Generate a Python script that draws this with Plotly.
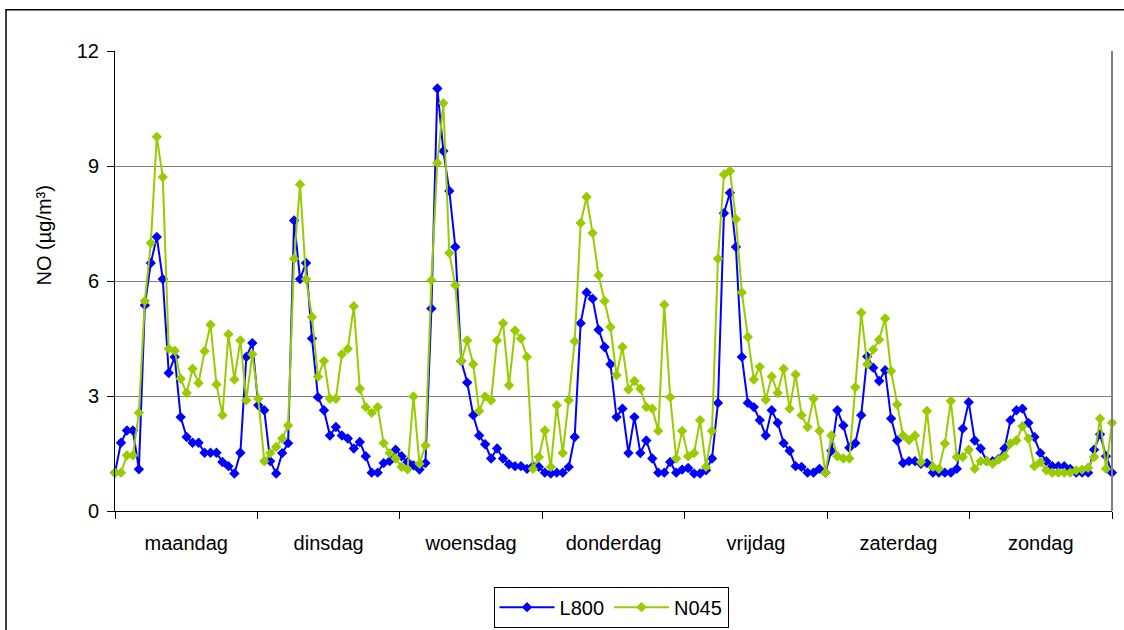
import plotly.graph_objects as go

days = ["maandag", "dinsdag", "woensdag", "donderdag", "vrijdag", "zaterdag", "zondag"]
y_ticks = [0, 3, 6, 9, 12]

l800 = [
    1.0, 1.78, 2.1, 2.1, 1.09, 5.37, 6.47, 7.15, 6.05, 3.6, 4.02, 2.45, 1.93, 1.78, 1.78, 1.52, 1.52, 1.52, 1.28, 1.17, 0.98, 1.52, 4.02, 4.38,
    2.76, 2.63, 1.30, 0.98, 1.51, 1.77, 7.58, 6.05, 6.47, 4.50, 2.97, 2.63, 1.97, 2.19, 1.97, 1.89, 1.63, 1.80, 1.43, 1.0, 1.0, 1.25, 1.30, 1.60,
    1.43, 1.28, 1.19, 1.08, 1.25, 5.28, 11.02, 9.39, 8.35, 6.89, 3.91, 3.35, 2.50, 1.97, 1.74, 1.37, 1.63, 1.37, 1.22, 1.17, 1.17, 1.10, 1.17, 1.15,
    1.0, 0.98, 1.0, 1.0, 1.15, 1.93, 4.90, 5.70, 5.54, 4.73, 4.28, 3.83, 2.45, 2.67, 1.51, 2.45, 1.51, 1.84, 1.37, 1.0, 1.0, 1.28, 1.0, 1.08,
    1.12, 0.98, 0.98, 1.06, 1.37, 2.82, 7.77, 8.30, 6.89, 4.02, 2.82, 2.71, 2.37, 1.97, 2.63, 2.30, 1.77, 1.57, 1.17, 1.15, 1.0, 1.0, 1.10, 1.0,
    1.57, 2.63, 2.23, 1.65, 1.77, 2.50, 4.03, 3.74, 3.39, 3.67, 2.41, 1.84, 1.25, 1.30, 1.30, 1.23, 1.25, 1.0, 1.0, 1.0, 1.0, 1.10, 2.15, 2.84,
    1.84, 1.63, 1.30, 1.30, 1.36, 1.63, 2.37, 2.63, 2.67, 2.30, 1.93, 1.51, 1.30, 1.17, 1.17, 1.17, 1.10, 1.0, 1.0, 1.0, 1.60, 2.0, 1.43, 1.0,
]

n045 = [
    1.0, 1.0, 1.45, 1.45, 2.56, 5.48, 6.99, 9.76, 8.71, 4.23, 4.18, 3.45, 3.08, 3.71, 3.34, 4.17, 4.86, 3.30, 2.50, 4.61, 3.43, 4.45, 2.89, 4.09,
    2.93, 1.30, 1.51, 1.67, 1.89, 2.23, 6.58, 8.52, 6.05, 5.06, 3.50, 3.91, 2.93, 2.93, 4.09, 4.23, 5.34, 3.19, 2.71, 2.56, 2.71, 1.77, 1.51, 1.37,
    1.15, 1.09, 2.99, 1.23, 1.71, 6.02, 9.08, 10.64, 6.73, 5.89, 3.91, 4.45, 3.83, 2.61, 2.99, 2.89, 4.45, 4.90, 3.28, 4.71, 4.50, 4.02, 1.10, 1.41,
    2.10, 1.15, 2.76, 1.51, 2.89, 4.43, 7.51, 8.19, 7.25, 6.15, 5.48, 4.80, 3.54, 4.28, 3.17, 3.39, 3.19, 2.71, 2.67, 2.09, 5.38, 2.97, 1.37, 2.09,
    1.43, 1.51, 2.37, 1.15, 2.09, 6.58, 8.78, 8.87, 7.61, 5.70, 4.54, 3.43, 3.76, 2.90, 3.51, 3.08, 3.71, 2.67, 3.56, 2.50, 2.19, 2.93, 2.09, 1.0,
    1.97, 1.43, 1.37, 1.37, 3.23, 5.17, 3.83, 4.21, 4.47, 5.02, 3.65, 2.78, 1.97, 1.85, 1.97, 1.28, 2.61, 1.15, 1.10, 1.76, 2.87, 1.41, 1.41, 1.60,
    1.10, 1.30, 1.30, 1.23, 1.34, 1.43, 1.76, 1.84, 2.21, 1.89, 1.17, 1.28, 1.06, 1.0, 1.0, 1.0, 1.0, 1.06, 1.08, 1.13, 1.41, 2.41, 1.10, 2.30,
]

n = len(l800)
x = list(range(n))
span = n - 1
day_w = span / len(days)
day_centers = [(k + 0.5) * day_w for k in range(len(days))]
day_bounds = [k * day_w for k in range(len(days) + 1)]

FONT = "Liberation Sans, Arial, sans-serif"

fig = go.Figure()
fig.add_trace(go.Scatter(
    x=x, y=l800, name="L800", mode="lines+markers",
    line=dict(color="#0000FF", width=2),
    marker=dict(symbol="diamond", size=8, color="#0000FF"),
    cliponaxis=False,
))
fig.add_trace(go.Scatter(
    x=x, y=n045, name="N045", mode="lines+markers",
    line=dict(color="#99CC00", width=2),
    marker=dict(symbol="diamond", size=8, color="#99CC00"),
    cliponaxis=False,
))

fig.update_layout(
    width=1124, height=630,
    margin=dict(l=115, r=12, t=51, b=119, autoexpand=False),
    paper_bgcolor="white", plot_bgcolor="white",
    font=dict(family=FONT, size=20, color="black"),
    showlegend=True,
    legend=dict(
        orientation="h", x=0.4975, xanchor="center", y=-0.209, yanchor="middle",
        bordercolor="black", borderwidth=1, font=dict(size=20),
        bgcolor="white", itemwidth=55,
    ),
    xaxis=dict(
        range=[0, span], showgrid=False, zeroline=False,
        showline=True, linecolor="black", linewidth=1,
        tickmode="array", tickvals=day_centers, ticktext=days,
        ticks="", ticklabelstandoff=14, automargin=False,
        minor=dict(tickmode="array", tickvals=day_bounds, ticks="outside",
                   ticklen=7, tickcolor="black", showgrid=False),
    ),
    yaxis=dict(
        range=[0, 12], tickmode="array", tickvals=y_ticks,
        showgrid=True, gridcolor="#808080", gridwidth=1,
        zeroline=False, showline=True, linecolor="black", linewidth=1,
        ticks="outside", ticklen=7, tickcolor="black", ticklabelstandoff=4,
        automargin=False,
    ),
    annotations=[dict(
        text="NO (µg/m³)", textangle=-90, xref="paper", yref="paper",
        x=-0.0712, y=0.599, xanchor="center", yanchor="middle",
        showarrow=False, font=dict(size=20),
    )],
    shapes=[
        dict(type="line", xref="paper", yref="paper", x0=1, x1=1, y0=0, y1=1,
             line=dict(color="#808080", width=2)),
        dict(type="rect", xref="paper", yref="paper", x0=-0.1093, x1=1.03,
             y0=-0.4, y1=1.0897, line=dict(color="black", width=1.5)),
    ],
)

fig.write_html("out.html")
